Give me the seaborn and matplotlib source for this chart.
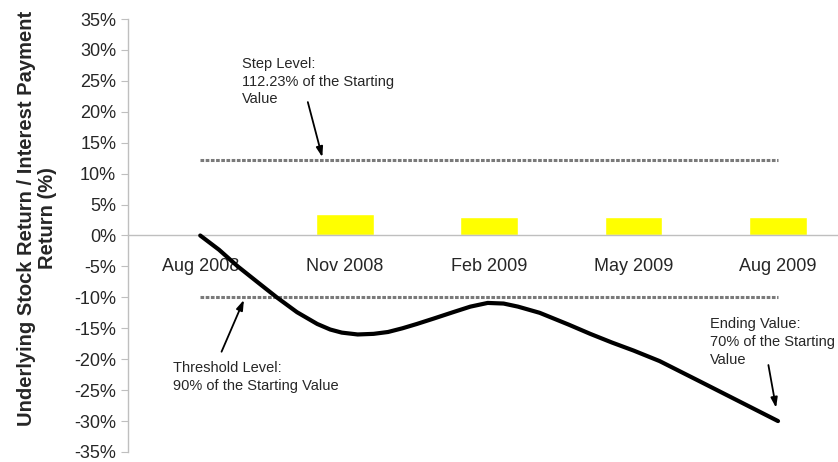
import matplotlib
matplotlib.use("Agg")
import matplotlib.pyplot as plt
import seaborn as sns
import numpy as np
import pandas as pd

# quarterly coupon dates and interest payments (%)
months = ["Aug 2008", "Nov 2008", "Feb 2009", "May 2009", "Aug 2009"]
interest = [0.0, 3.4, 3.0, 3.0, 3.0]

# underlying stock path, x in quarter units (0 = Aug 2008)
path_x = [0, 0.13, 0.26, 0.4, 0.53, 0.67, 0.81, 0.9, 0.98, 1.09, 1.2, 1.3, 1.4, 1.5,
          1.62, 1.75, 1.87, 1.99, 2.1, 2.2, 2.35, 2.55, 2.7, 2.85, 3.0, 3.18, 3.46, 4.0]
path_y = [0, -2.3, -5.0, -7.6, -10.0, -12.4, -14.3, -15.2, -15.7, -16.0, -15.9, -15.6, -15.0, -14.3,
          -13.4, -12.4, -11.5, -10.9, -11.0, -11.5, -12.5, -14.4, -15.9, -17.3, -18.6, -20.3, -23.6, -30.0]

step_level = 12.23
threshold_level = -10.0

yticks = list(range(-35, 40, 5))

sns.set_style("white")
plt.rcParams["font.family"] = ["Liberation Sans", "DejaVu Sans"]

fig = plt.figure(figsize=(8.38, 4.62), dpi=100)
ax = fig.add_axes([128 / 838, 1 - 452 / 462, 710 / 838, 433 / 462])

bars = pd.DataFrame({"month": months, "interest": interest})
sns.barplot(data=bars, x="month", y="interest", color="#ffff00", saturation=1,
            width=0.4, ax=ax, zorder=2)

path = pd.DataFrame({"x": path_x, "y": path_y})
sns.lineplot(data=path, x="x", y="y", color="black", lw=3, ax=ax,
             estimator=None, sort=False, zorder=4)

dash = (0, (1.2, 0.5))
ax.hlines(step_level, 0, len(months) - 1, colors="#7a7a7a", lw=2.2, linestyles=[dash], zorder=3)
ax.hlines(threshold_level, 0, len(months) - 1, colors="#7a7a7a", lw=2.2, linestyles=[dash], zorder=3)

ax.set_xlim(-0.5, (838 - 200) / 144.5)
ax.set_ylim(-35, 35)
ax.set_yticks(yticks)
ax.set_yticklabels([f"{t}%" for t in yticks])

# x axis sits on the zero line
ax.spines["bottom"].set_position(("data", 0))
for s in ["top", "right"]:
    ax.spines[s].set_visible(False)
for s in ["bottom", "left"]:
    ax.spines[s].set_color("#bfbfbf")
    ax.spines[s].set_linewidth(1)

ax.set_xticks(range(len(months)))
ax.set_xticklabels(months)
ax.set_xticks(np.arange(len(months) - 1) + 0.5, minor=True)
ax.tick_params(axis="x", which="major", length=0, pad=16, labelsize=13, labelcolor="#262626")
ax.tick_params(axis="x", which="minor", length=4, direction="out", color="#bfbfbf")
ax.tick_params(axis="y", length=5, direction="out", color="#bfbfbf", labelsize=13,
               labelcolor="#262626", left=True)
ax.set_xlabel("")

ax.set_ylabel("Underlying Stock Return / Interest Payment\nReturn (%)", fontsize=14.5,
              fontweight="bold", color="#262626", linespacing=1.12)
ax.yaxis.set_label_coords(-0.1, 0.54)

note_kw = dict(fontsize=10.5, color="#262626", ha="left", va="top", linespacing=1.35)
arrow_kw = dict(arrowstyle="-|>,head_length=0.6,head_width=0.2", color="black", lw=1.3)

ax.text(0.29, 28.9, "Step Level:\n112.23% of the Starting\nValue", **note_kw)
ax.annotate("", xy=(0.85, step_level), xytext=(0.74, 22), arrowprops=arrow_kw)

ax.text(-0.19, -20.3, "Threshold Level:\n90% of the Starting Value", **note_kw)
ax.annotate("", xy=(0.31, threshold_level), xytext=(0.14, -19.2), arrowprops=arrow_kw)

ax.text(3.53, -13.2, "Ending Value:\n70% of the Starting\nValue", **note_kw)
ax.annotate("", xy=(3.99, -28.3), xytext=(3.93, -20.5), arrowprops=arrow_kw)

fig.savefig("out.png", dpi=100)
